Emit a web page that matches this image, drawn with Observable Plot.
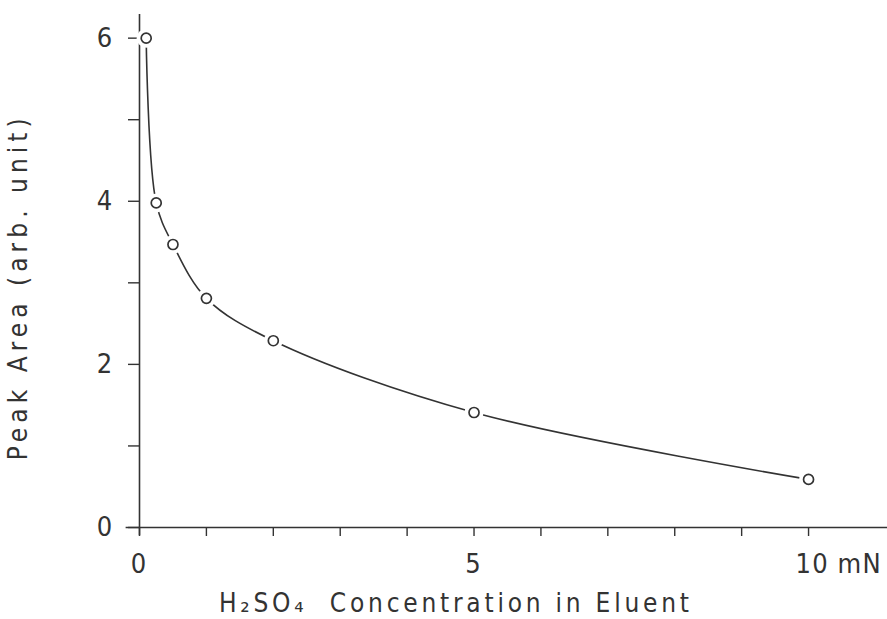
<!DOCTYPE html>
<html>
<head>
<meta charset="utf-8">
<script src="https://cdn.jsdelivr.net/npm/d3@7"></script>
<script src="https://cdn.jsdelivr.net/npm/@observablehq/plot@0.6"></script>
<style>
  html, body { margin: 0; padding: 0; background: #fff; }
  #chart svg { display: block; }
</style>
</head>
<body>
<div id="chart"></div>
<script>
// Data
const concentration = [0.1, 0.25, 0.5, 1, 2, 5, 10];          // mN H2SO4
const peakArea      = [6.0, 3.98, 3.47, 2.81, 2.29, 1.41, 0.59]; // arb. unit
const xTickValues = [0, 1, 2, 3, 4, 5, 6, 7, 8, 9, 10];
const xTickLabels = [{v: 0, t: "0"}, {v: 5, t: "5"}, {v: 10, t: "10 mN"}];
const yTickValues = [0, 1, 2, 3, 4, 5, 6];
const yTickLabels = [0, 2, 4, 6];
const xTitle = "H₂SO₄  Concentration in Eluent";
const yTitle = "Peak Area (arb. unit)";

const data = concentration.map((c, i) => ({c, a: peakArea[i]}));
const ink = "#333";
const font = "'Liberation Sans Narrow', 'DejaVu Sans Condensed', 'Roboto Condensed', 'DejaVu Sans', sans-serif";

const chart = Plot.plot({
  width: 887,
  height: 619,
  marginLeft: 139,
  marginRight: 0,
  marginTop: 14,
  marginBottom: 92,
  style: {fontFamily: font, background: "#fff", color: ink},
  x: {domain: [0, 11.18], label: null},
  y: {domain: [0, 6.29], label: null},
  marks: [
    Plot.ruleY([0], {x1: -0.2, x2: 11.18, stroke: ink, strokeWidth: 1.6}),
    Plot.ruleX([0], {y1: -0.1, y2: 6.29, stroke: ink, strokeWidth: 1.6}),
    Plot.axisX({ticks: xTickValues, tickSize: 9, tickFormat: () => "", label: null, stroke: ink, strokeWidth: 1.4}),
    Plot.axisY({ticks: yTickValues, tickSize: 11, tickFormat: () => "", label: null, stroke: ink, strokeWidth: 1.4}),
    Plot.text(xTickLabels.filter(d => d.v < 10), {x: "v", y: 0, text: "t", dy: 37, dx: -1,
      fontSize: 27, fill: ink, fontFamily: font}),
    Plot.text(xTickLabels.filter(d => d.v >= 10), {x: "v", y: 0, text: "t", dy: 37, dx: -13, textAnchor: "start",
      fontSize: 27, fill: ink, fontFamily: font}),
    Plot.text(yTickLabels, {x: 0, y: d => d, text: d => String(d), dx: -35,
      fontSize: 27, fill: ink, fontFamily: font}),
    Plot.text([xTitle], {x: 4.7, y: 0, dy: 76, text: d => d,
      fontSize: 26, fill: ink, fontFamily: font}),
    Plot.text([yTitle], {x: 0, y: 2.92, dx: -121, rotate: -90, text: d => d,
      fontSize: 26, fill: ink, fontFamily: font}),
    Plot.line(data, {x: "c", y: "a", curve: "catmull-rom", stroke: ink, strokeWidth: 1.6}),
    Plot.dot(data, {x: "c", y: "a", r: 9.5, fill: "#fff", stroke: "none"}),
    Plot.dot(data, {x: "c", y: "a", r: 5, fill: "#fff", stroke: ink, strokeWidth: 1.7})
  ]
});
// widen the lettering as in the original (spaced-out stencil lettering)
const spread = {[xTitle]: 470, [yTitle]: 342, "10 mN": 85};
d3.select(chart).selectAll("text").each(function() {
  const w = spread[this.textContent];
  if (w) {
    this.setAttribute("textLength", w);
    this.setAttribute("lengthAdjust", "spacing");
  }
});
document.getElementById("chart").append(chart);
</script>
</body>
</html>
